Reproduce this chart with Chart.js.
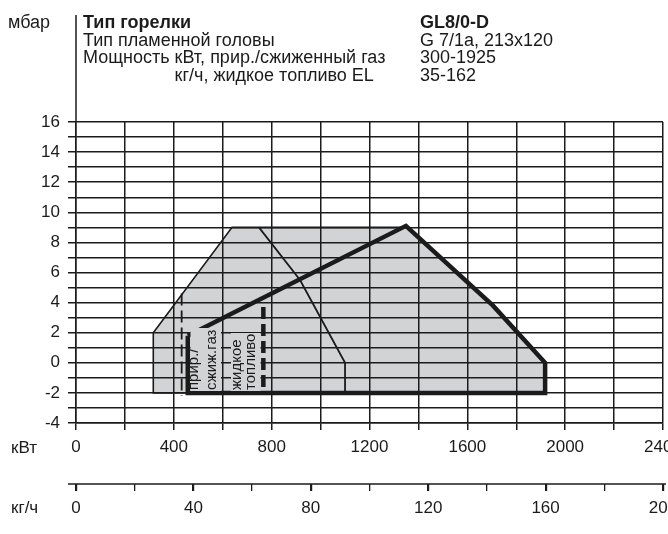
<!DOCTYPE html>
<html>
<head>
<meta charset="utf-8">
<script src="https://cdn.jsdelivr.net/npm/chart.js@4.4.0/dist/chart.umd.min.js"></script>
<style>
  html, body { margin: 0; padding: 0; background: #fff; }
</style>
</head>
<body>
<canvas id="chart" width="668" height="534"></canvas>
<script>
// оси
const kwLabels = [0, 400, 800, 1200, 1600, 2000, 2400];
const kghLabels = [0, 40, 80, 120, 160, 200];
const mbarLabels = [-4, -2, 0, 2, 4, 6, 8, 10, 12, 14, 16];

// рабочее поле (серая заливка), кВт / мбар
const fieldKw   = [316, 316, 638, 1349, 1705, 1918, 1918];
const fieldMbar = [-2, 2, 9, 9, 3.8, 0, -2];

// тонкий контур слева и сверху
const outlineKw   = [457, 316, 316, 638, 1349];
const outlineMbar = [-2, -2, 2, 9, 9];

// жидкое топливо (тонкая линия)
const oilKw   = [748, 916, 1100, 1100];
const oilMbar = [9, 5.5, 0, -2];

// газ (жирная линия)
const gasKw   = [457, 457, 1918, 1918, 1705, 1349, 457];
const gasMbar = [1.8, -2, -2, 0, 3.8, 9.1, 1.8];

// пунктир: мин. мощность газ / жидкое топливо
const gasMinKw = [432, 432];
const gasMinMbar = [4.6, -2.2];
const oilMinKw = [766, 766];
const oilMinMbar = [3.7, -2];

const FONT = '"Liberation Sans", Arial, sans-serif';
const INK = '#1b1b1b';
const FILL = '#d1d3d4';

function pts(xs, ys) {
  return xs.map((x, i) => ({ x: x, y: ys[i] }));
}

function line(xs, ys, width, dash) {
  return {
    data: pts(xs, ys),
    showLine: true,
    borderColor: INK,
    borderWidth: width,
    borderDash: dash || [],
    borderJoinStyle: 'miter',
    pointRadius: 0,
    fill: false,
  };
}

// серое поле + сетка внутри него, до линий графика
const field = {
  id: 'field',
  beforeDatasetsDraw(chart) {
    const ctx = chart.ctx;
    const sx = chart.scales.x;
    const sy = chart.scales.y;
    const area = chart.chartArea;
    ctx.save();
    ctx.beginPath();
    fieldKw.forEach((kw, i) => {
      const px = sx.getPixelForValue(kw);
      const py = sy.getPixelForValue(fieldMbar[i]);
      if (i === 0) ctx.moveTo(px, py); else ctx.lineTo(px, py);
    });
    ctx.closePath();
    ctx.fillStyle = FILL;
    ctx.fill();
    ctx.clip();

    ctx.strokeStyle = INK;
    ctx.lineWidth = 1.5;
    ctx.beginPath();
    sx.ticks.forEach((t) => {
      const px = Math.round(sx.getPixelForValue(t.value) - 0.75) + 0.75;
      ctx.moveTo(px, area.top);
      ctx.lineTo(px, area.bottom);
    });
    sy.ticks.forEach((t) => {
      const py = Math.round(sy.getPixelForValue(t.value) - 0.75) + 0.75;
      ctx.moveTo(area.left, py);
      ctx.lineTo(area.right, py);
    });
    ctx.stroke();
    ctx.restore();
  }
};

const decor = {
  id: 'decor',
  afterDraw(chart) {
    const ctx = chart.ctx;
    const area = chart.chartArea;
    const kgh = chart.scales.kgh;
    ctx.save();

    // ось мбар вверх до заголовка
    ctx.strokeStyle = INK;
    ctx.lineWidth = 1.5;
    ctx.beginPath();
    ctx.moveTo(area.left, 15);
    ctx.lineTo(area.left, area.top);
    ctx.stroke();

    // линия шкалы кг/ч
    ctx.beginPath();
    ctx.moveTo(area.left - 8, kgh.top);
    ctx.lineTo(area.right + 3, kgh.top);
    ctx.stroke();

    // подписи внутри поля (на сером фоне, сетку закрывают)
    ctx.fillStyle = FILL;
    ctx.fillRect(190.5, 328, 30.5, 63);
    ctx.fillRect(231, 333, 29.5, 58);
    ctx.fillStyle = INK;
    ctx.font = '15px ' + FONT;
    ctx.textAlign = 'left';
    ctx.textBaseline = 'alphabetic';
    const rot = [['прир./', 198, 390], ['сжиж.газ', 216, 390], ['жидкое', 241, 390], ['топливо', 255, 390]];
    rot.forEach(([t, x, y]) => {
      ctx.save();
      ctx.translate(x, y);
      ctx.rotate(-Math.PI / 2);
      ctx.fillText(t, 0, 0);
      ctx.restore();
    });

    // заголовок
    ctx.font = '18px ' + FONT;
    ctx.fillText('мбар', 8, 28);
    ctx.font = 'bold 18px ' + FONT;
    ctx.fillText('Тип горелки', 83, 28);
    ctx.fillText('GL8/0-D', 420, 28);
    ctx.font = '18px ' + FONT;
    ctx.fillText('Тип пламенной головы', 83, 45.7);
    ctx.fillText('Мощность кВт, прир./сжиженный газ', 83, 63.4);
    const indent = ctx.measureText('Мощность ').width;
    ctx.fillText('кг/ч, жидкое топливо EL', 83 + indent, 81);
    ctx.fillText('G 7/1a, 213x120', 420, 45.7);
    ctx.fillText('300-1925', 420, 63.4);
    ctx.fillText('35-162', 420, 81);

    // единицы шкал
    ctx.font = '17px ' + FONT;
    ctx.textBaseline = 'middle';
    ctx.fillText('кВт', 11, 448);
    ctx.fillText('кг/ч', 11, 508);
    ctx.restore();
  }
};

new Chart(document.getElementById('chart'), {
  type: 'scatter',
  data: {
    datasets: [
      line(outlineKw, outlineMbar, 1.6),
      line(oilKw, oilMbar, 1.8),
      line(gasMinKw, gasMinMbar, 1.8, [12, 5]),
      line(oilMinKw, oilMinMbar, 4.5, [12, 5]),
      line(gasKw, gasMbar, 4.5),
    ]
  },
  options: {
    responsive: false,
    animation: false,
    layout: { padding: { left: 0, right: 5, top: 122, bottom: 0 } },
    plugins: {
      legend: { display: false },
      tooltip: { enabled: false },
    },
    scales: {
      x: {
        type: 'linear',
        position: 'bottom',
        min: kwLabels[0],
        max: kwLabels[kwLabels.length - 1],
        weight: 0,
        grid: { color: INK, lineWidth: 1.5, tickLength: 7 },
        border: { color: INK, width: 1.5 },
        ticks: {
          stepSize: 200,
          autoSkip: false,
          maxRotation: 0,
          padding: 7,
          color: INK,
          font: { family: FONT, size: 17 },
          callback: (v) => kwLabels.includes(v) ? String(v) : '',
        },
        afterFit(scale) {
          scale.height = 61;
          scale.paddingLeft = 0;
          scale.paddingRight = 0;
        },
      },
      kgh: {
        type: 'linear',
        position: 'bottom',
        min: kghLabels[0],
        max: kghLabels[kghLabels.length - 1],
        weight: 1,
        grid: {
          drawOnChartArea: false,
          color: INK,
          tickLength: 7,
          lineWidth: (c) => (c.tick && kghLabels.includes(c.tick.value)) ? 2.2 : 1.3,
        },
        border: { display: false },
        ticks: {
          stepSize: 20,
          autoSkip: false,
          maxRotation: 0,
          padding: 7,
          color: INK,
          font: { family: FONT, size: 17 },
          callback: (v) => kghLabels.includes(v) ? String(v) : '',
        },
        afterFit(scale) {
          scale.height = 50;
          scale.paddingLeft = 0;
          scale.paddingRight = 0;
        },
      },
      y: {
        type: 'linear',
        min: mbarLabels[0],
        max: mbarLabels[mbarLabels.length - 1],
        grid: { color: INK, lineWidth: 1.5, tickLength: 8 },
        border: { color: INK, width: 1.5 },
        ticks: {
          stepSize: 1,
          autoSkip: false,
          padding: 8,
          color: INK,
          font: { family: FONT, size: 17 },
          callback: (v) => mbarLabels.includes(v) ? String(v) : '',
        },
        afterFit(scale) {
          scale.width = 76;
        },
      },
    },
  },
  plugins: [field, decor],
});
</script>
</body>
</html>
